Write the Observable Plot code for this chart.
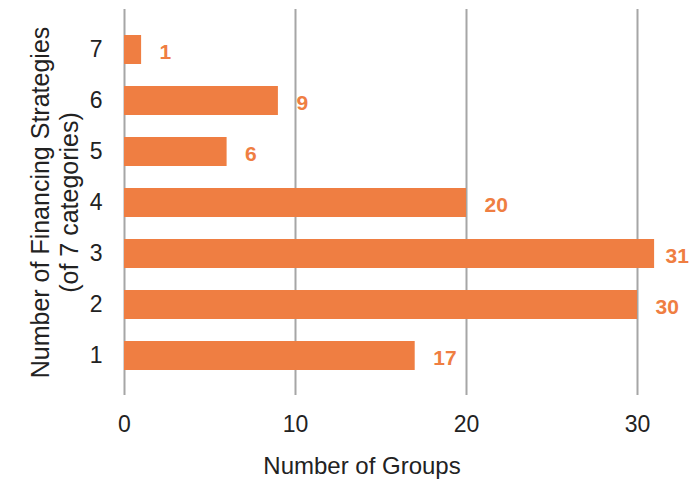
<!DOCTYPE html>
<html>
<head>
<meta charset="utf-8">
<script src="https://cdn.jsdelivr.net/npm/d3@7"></script>
<script src="https://cdn.jsdelivr.net/npm/@observablehq/plot@0.6"></script>
<style>
  html, body { margin: 0; padding: 0; background: #fff; }
  svg { font-family: "Liberation Sans", Arial, sans-serif; }
</style>
</head>
<body>
<div id="chart"></div>
<script>
const categories = ["1", "2", "3", "4", "5", "6", "7"];
const counts = [17, 30, 31, 20, 6, 9, 1];
const xTicks = [0, 10, 20, 30];
const xTitle = "Number of Groups";
const yTitle = "Number of Financing Strategies\n(of 7 categories)";

const data = categories.map((c, i) => ({category: c, count: counts[i]}));
const maxCount = d3.max(counts);
const orange = "#ef7e42";

const chart = Plot.plot({
  width: 689,
  height: 484,
  marginTop: 9,
  marginBottom: 89,
  marginLeft: 124,
  marginRight: 52,
  style: {fontFamily: "'Liberation Sans', Arial, sans-serif", background: "#fff"},
  x: {domain: [0, 30], ticks: xTicks, label: null},
  y: {domain: categories.slice().reverse(), padding: 0.44, label: null},
  marks: [
    Plot.gridX(xTicks, {stroke: "#a6a6a6", strokeWidth: 2, strokeOpacity: 1}),
    Plot.axisX({ticks: xTicks, tickSize: 0, tickPadding: 20, fontSize: 23, color: "#222", label: null}),
    Plot.axisY({tickSize: 0, tickPadding: 22, fontSize: 23, color: "#222", label: null}),
    Plot.barX(data, {x: "count", y: "category", fill: orange}),
    Plot.text(data.filter(d => d.count < maxCount), {x: "count", y: "category", text: d => String(d.count), textAnchor: "start", dx: 18, dy: 2, fill: orange, fontWeight: "bold", fontSize: 21}),
    Plot.text(data.filter(d => d.count === maxCount), {x: "count", y: "category", text: d => String(d.count), textAnchor: "start", dx: 11, dy: 2, fill: orange, fontWeight: "bold", fontSize: 21}),
    Plot.text([xTitle], {frameAnchor: "bottom", text: d => d, dx: -19, dy: 78, fontSize: 24, fill: "#222"}),
    Plot.text([yTitle], {frameAnchor: "left", textAnchor: "middle", text: d => d, rotate: -90, dx: -70, fontSize: 25, lineHeight: 1.15, fill: "#222"})
  ]
});
document.getElementById("chart").append(chart);
</script>
</body>
</html>
